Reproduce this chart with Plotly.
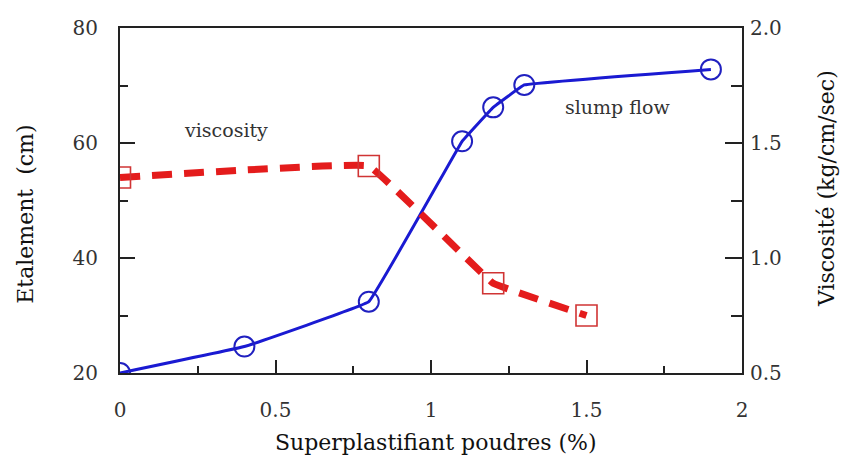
import plotly.graph_objects as go

# Data
sp_slump = [0, 0.4, 0.8, 1.1, 1.2, 1.3, 1.9]
slump_flow = [20, 24.6, 32.4, 60.3, 66.2, 70.1, 72.8]

sp_visc = [0, 0.8, 1.2, 1.5]
viscosity = [1.35, 1.40, 0.89, 0.75]

FONT = "DejaVu Serif"
AX = "#222222"

fig = go.Figure()
fig.add_trace(go.Scatter(
    x=sp_visc, y=viscosity, yaxis="y2", mode="lines+markers",
    line=dict(color="#e41c1c", width=7, dash="20px,12px", shape="spline", smoothing=0.15),
    marker=dict(symbol="square-open", size=21, color="#d03434", line=dict(width=1.6, color="#d03434")),
    showlegend=False,
))
fig.add_trace(go.Scatter(
    x=sp_slump, y=slump_flow, mode="lines+markers",
    line=dict(color="#1a1ad2", width=3, shape="spline", smoothing=0.15),
    marker=dict(symbol="circle-open", size=20, color="#2020c0", line=dict(width=2, color="#2020c0")),
    showlegend=False,
))

fig.add_annotation(x=0.34, y=62.3, text="viscosity", showarrow=False,
                   font=dict(family=FONT, size=19, color="#333"))
fig.add_annotation(x=1.6, y=66.2, text="slump flow", showarrow=False,
                   font=dict(family=FONT, size=19, color="#333"))

tickfont = dict(family=FONT, size=20, color="#333")
titlefont = dict(family=FONT, size=22, color="#111")

# axis titles placed as paper-referenced annotations
fig.add_annotation(xref="paper", yref="paper", x=0.508, y=-0.2, text="Superplastifiant poudres (%)",
                   showarrow=False, xanchor="center", yanchor="middle", font=titlefont)
fig.add_annotation(xref="paper", yref="paper", x=-0.152, y=0.46, text="Etalement  (cm)", textangle=-90,
                   showarrow=False, xanchor="center", yanchor="middle", font=titlefont)
fig.add_annotation(xref="paper", yref="paper", x=1.135, y=0.536, text="Viscosité (kg/cm/sec)", textangle=-90,
                   showarrow=False, xanchor="center", yanchor="middle", font=titlefont)

fig.update_layout(
    width=843, height=472,
    margin=dict(l=120, r=101, t=28, b=99),
    paper_bgcolor="white", plot_bgcolor="white",
    font=dict(family=FONT),
    xaxis=dict(
        range=[0, 2], tickvals=[0, 0.5, 1, 1.5, 2], ticktext=["0", "0.5", "1", "1.5", "2"],
        ticks="inside", ticklen=13, tickwidth=2, tickcolor=AX,
        minor=dict(ticks="inside", ticklen=7, dtick=0.25, tickwidth=2, tickcolor=AX),
        showline=True, linewidth=2, linecolor=AX, mirror=True,
        showgrid=False, zeroline=False, tickfont=tickfont, ticklabelstandoff=18,
    ),
    yaxis=dict(
        range=[20, 80], tickvals=[20, 40, 60, 80],
        ticks="inside", ticklen=15, tickwidth=2, tickcolor=AX,
        minor=dict(ticks="inside", ticklen=8, dtick=10, tickwidth=2, tickcolor=AX),
        showline=True, linewidth=2, linecolor=AX,
        showgrid=False, zeroline=False, tickfont=tickfont, ticklabelstandoff=16,
    ),
    yaxis2=dict(
        range=[0.5, 2.0], tickvals=[0.5, 1.0, 1.5, 2.0], ticktext=["0.5", "1.0", "1.5", "2.0"],
        overlaying="y", side="right",
        ticks="inside", ticklen=17, tickwidth=2, tickcolor=AX,
        minor=dict(ticks="inside", ticklen=11, dtick=0.25, tickwidth=2, tickcolor=AX),
        showline=True, linewidth=2, linecolor=AX,
        showgrid=False, zeroline=False, tickfont=tickfont, ticklabelstandoff=2,
    ),
)

fig.write_html("out.html")
